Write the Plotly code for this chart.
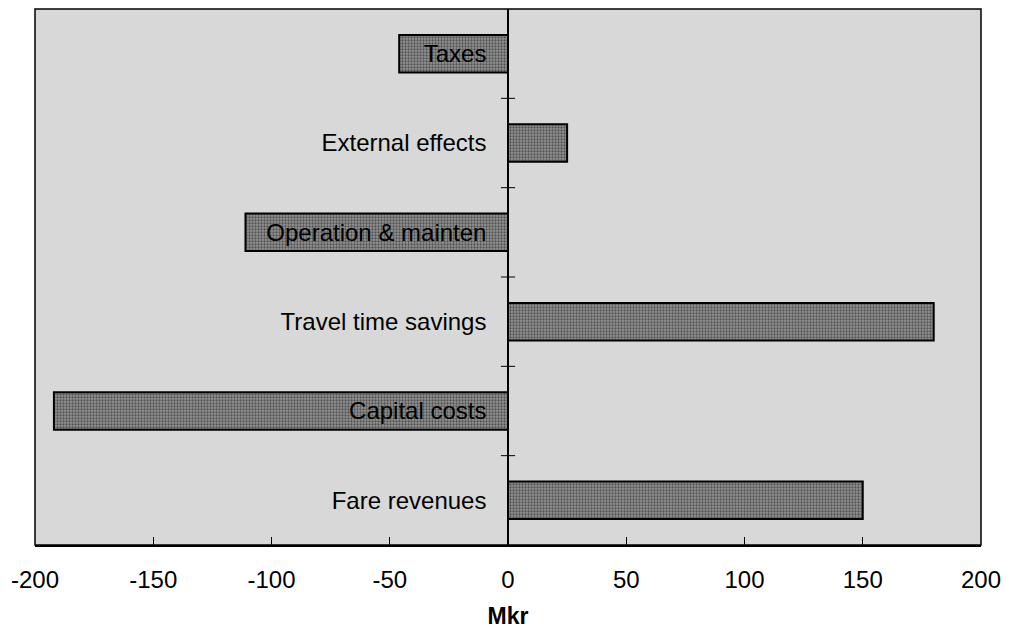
import plotly.graph_objects as go

categories = ["Fare revenues", "Capital costs", "Travel time savings",
              "Operation & mainten", "External effects", "Taxes"]
values = [150, -192, 180, -111, 25, -46]
x_ticks = [-200, -150, -100, -50, 0, 50, 100, 150, 200]
x_tick_labels = [str(v) for v in x_ticks]

FONT = "Liberation Sans, Arial, sans-serif"

fig = go.Figure()
fig.add_trace(go.Bar(
    y=categories, x=values, orientation="h", width=0.42,
    marker=dict(color="#8a8a8a",
                line=dict(color="black", width=2),
                pattern=dict(shape=".", fgcolor="#111111", bgcolor="#939393",
                             size=3, solidity=0.45)),
    showlegend=False, hoverinfo="x+y",
))

shapes = [dict(type="rect", xref="paper", yref="paper", x0=0, x1=1, y0=0, y1=1,
               line=dict(color="black", width=1.5), layer="above")]
for k in range(len(categories) - 1):
    shapes.append(dict(type="line", xref="x", yref="y", x0=-3, x1=3,
                       y0=k + 0.5, y1=k + 0.5, line=dict(color="black", width=1),
                       layer="above"))

# page body has an 8px margin, so the figure is sized to fill the rest
fig.update_layout(
    width=1001, height=621,
    margin=dict(l=27, r=28, t=1, b=84, autoexpand=False),
    paper_bgcolor="white",
    plot_bgcolor="#d8d8d8",
    font=dict(family=FONT, size=24, color="black"),
    shapes=shapes,
    xaxis=dict(range=[-200, 200], tickvals=x_ticks, ticktext=x_tick_labels,
               ticks="inside", ticklen=8, automargin=False,
               tickcolor="black", showline=True, linecolor="black", linewidth=1.5,
               showgrid=False, zeroline=False, ticklabelstandoff=12,
               tickfont=dict(size=24),
               title=dict(text="<b>Mkr</b>", font=dict(size=23), standoff=18)),
    yaxis=dict(type="category", categoryorder="array", categoryarray=categories,
               range=[-0.5, len(categories) - 0.5], automargin=False,
               anchor="free", position=0.5, showline=True, linecolor="black",
               linewidth=1.5, ticks="", showgrid=False, zeroline=False,
               ticklabelstandoff=16, tickfont=dict(size=24)),
)

fig.write_html("out.html")
